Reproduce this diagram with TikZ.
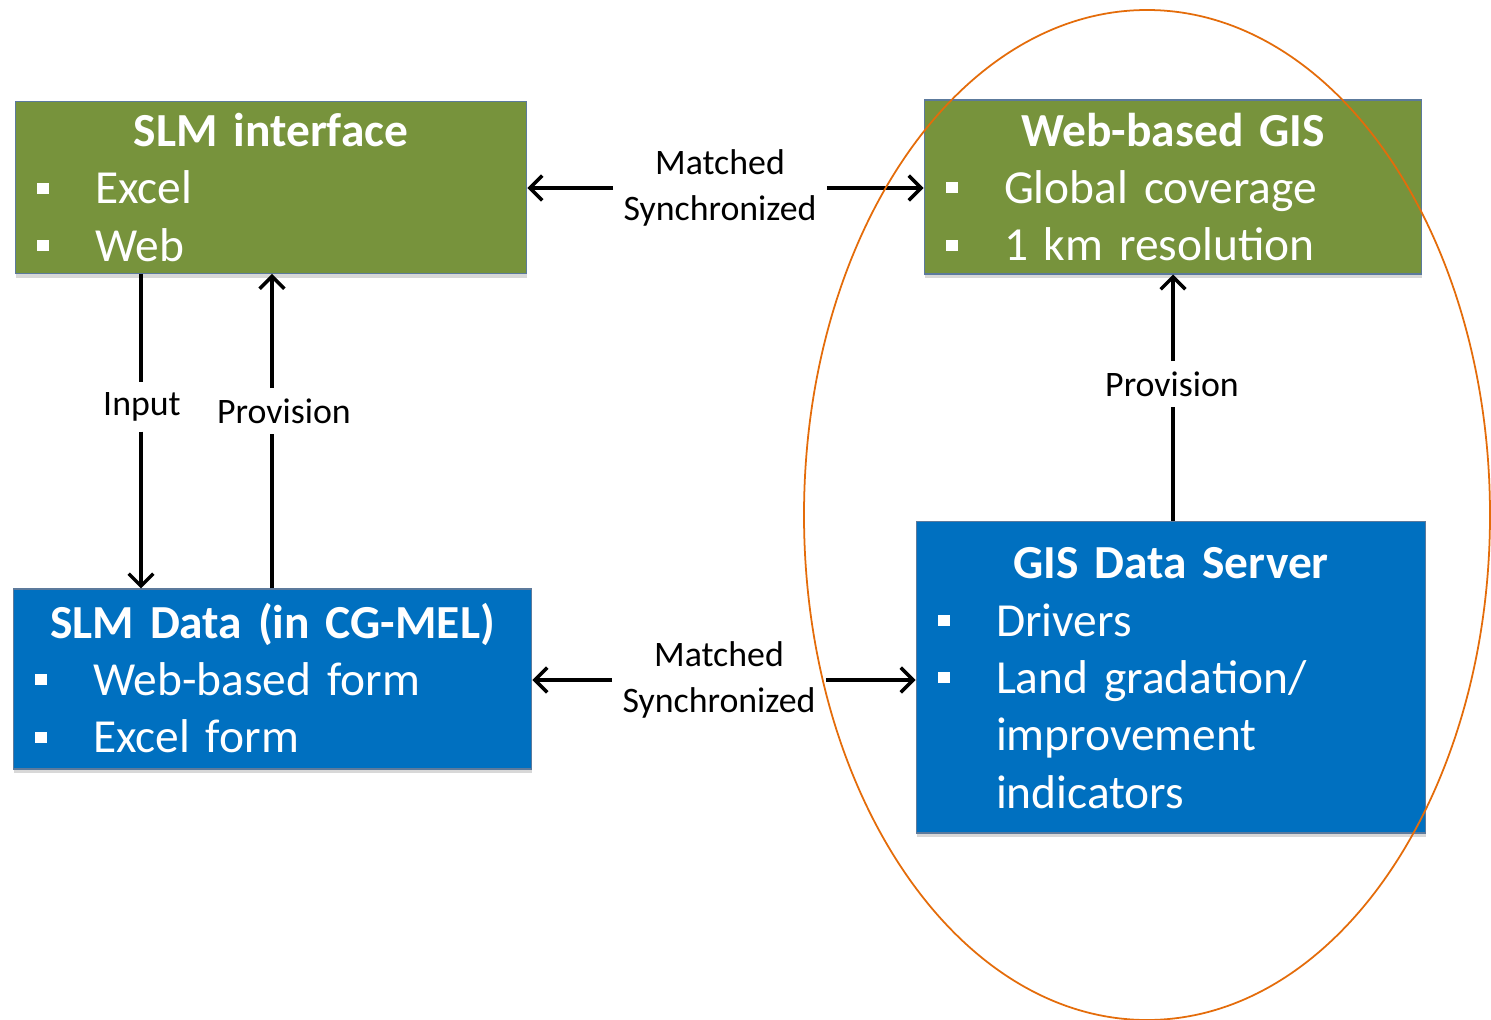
\documentclass[tikz,border=0pt]{standalone}
\usepackage{fontspec}
\setmainfont{Carlito}
\definecolor{slmgreen}{RGB}{119,147,60}
\definecolor{slmblue}{RGB}{0,112,192}
\definecolor{slmedge}{RGB}{92,122,156}
\definecolor{slmorange}{RGB}{228,108,10}
\usetikzlibrary{arrows.meta,positioning,shadows,calc}
\newcommand{\boxtitle}[1]{{\centering\bfseries\rule{0pt}{25.7pt}#1\strut\par}}
\newcommand{\bitem}[1]{\makebox[1.16cm][l]{\raisebox{0.2cm}{\rule{0.24cm}{0.22cm}}}#1\strut\par}
\newcommand{\bcont}[1]{\hspace*{1.16cm}#1\strut\par}
\newcommand{\boxend}{\vspace*{-0.1cm}}

\begin{document}
\begin{tikzpicture}[
  x=0.02cm, y=-0.02cm,
  >={Straight Barb[length=7pt,width=14pt,line width=2pt]},
  box/.style={draw=slmedge, line width=0.6pt, text=white, inner xsep=0.44cm, inner ysep=0pt,
    font=\fontsize{27}{32.6}\selectfont,
    drop shadow={shadow xshift=0.3pt, shadow yshift=-2.5pt, opacity=0.3},
    execute at begin node=\setlength{\parindent}{0pt}},
  gbox/.style={box, fill=slmgreen},
  bbox/.style={box, fill=slmblue},
  lbl/.style={font=\fontsize{20.4}{26}\selectfont, inner sep=0.2cm, align=center},
  arr/.style={->, line width=1.9pt, black}
]
\fill[white] (0,0) rectangle (1491,1020);
\useasboundingbox (0,0) rectangle (1491,1020);

% the four boxes
\node[gbox, text width=9.36cm, minimum height=3.42cm] (slm) at (271,187.5)
  {\boxtitle{SLM interface}\bitem{Excel}\bitem{Web}\boxend};
\node[gbox, text width=9.08cm, minimum height=3.48cm] (gis) at (1173,187)
  {\boxtitle{Web-based GIS}\bitem{Global coverage}\bitem{1 km resolution}\boxend};
\node[bbox, text width=9.5cm, minimum height=3.6cm] (data) at (272.5,679)
  {\boxtitle{SLM Data (in CG-MEL)}\bitem{Web-based form}\bitem{Excel form}\boxend};
\node[bbox, text width=9.32cm, minimum height=6.24cm] (server) at (1171,677)
  {\boxtitle{GIS Data Server}\bitem{Drivers}\bitem{Land gradation/}\bcont{improvement}\bcont{indicators}\boxend};

% labels
\node[lbl] (mtop) at (720,188) {Matched\\Synchronized};
\node[lbl] (mbot) at (719,680) {Matched\\Synchronized};
\node[lbl] (inp) at (142,407) {Input};
\node[lbl] (provl) at (284,411) {Provision};
\node[lbl] (provr) at (1172,384) {Provision};

\coordinate (inx) at (141,0);
\coordinate (provx) at (272,0);
\coordinate (gisx) at (1173,0);

\draw[arr] (mtop.west) -- (mtop.west -| slm.east);
\draw[arr] (mtop.east) -- (mtop.east -| gis.west);
\draw[arr] (mbot.west) -- (mbot.west -| data.east);
\draw[arr] (mbot.east) -- (mbot.east -| server.west);

\draw[line width=1.9pt] (inx |- slm.south) -- (inx |- inp.north);
\draw[arr] (inx |- inp.south) -- (inx |- data.north);
\draw[line width=1.9pt] (provx |- data.north) -- (provx |- provl.south);
\draw[arr] (provx |- provl.north) -- (provx |- slm.south);
\draw[line width=1.9pt] (gisx |- server.north) -- (gisx |- provr.south);
\draw[arr] (gisx |- provr.north) -- (gisx |- gis.south);

% orange ring round the GIS side
\draw[slmorange, line width=1pt] (1147,515) ellipse [x radius=343, y radius=505];
\end{tikzpicture}
\end{document}
